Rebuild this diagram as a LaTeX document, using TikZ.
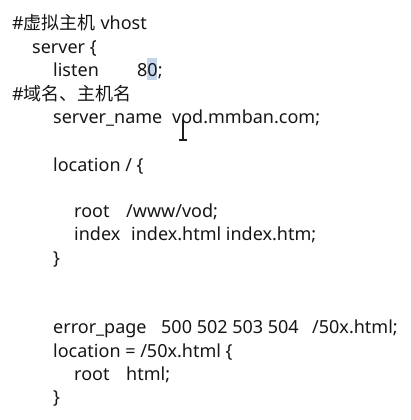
\documentclass[tikz,border=0pt]{standalone}
\usepackage{fontspec}
\setmainfont{Noto Sans}
\newfontfamily\cjk{Noto Sans CJK SC}
\definecolor{codetextcolor}{RGB}{22,22,22}
\definecolor{selectioncolor}{RGB}{197,214,236}
\definecolor{cursorcolor}{RGB}{30,30,30}
\tikzstyle{codetext} = [anchor=base west, inner sep=0, font=\fontsize{18}{22}\selectfont, text=codetextcolor]
\tikzstyle{cursorline} = [draw=cursorcolor, line width=1.2pt]

\begin{document}
\begin{tikzpicture}[
		x=1pt, y=-1pt
		]
		\useasboundingbox[fill=white] (0,0) rectangle (411,420);
		
		% selection behind the 0 of 80
		\fill[selectioncolor] (147,58) rectangle (157,80);
		
		\node[codetext] (vhostcomment) at (12,30) {\#{\cjk 虚拟主机} vhost};
		\node[codetext] (serveropen) at (32,53) {server \{};
		\node[codetext] (listenkey) at (53,77) {listen};
		\node[codetext] (listenport) at (137,77) {80;};
		\node[codetext] (namecomment) at (12,100) {\#{\cjk 域名、主机名}};
		\node[codetext] (namekey) at (53,123) {server\_name};
		\node[codetext] (namevalue) at (172,123) {vod.mmban.com;};
		
		\node[codetext] (locationopen) at (53,171) {location / \{};
		\node[codetext] (rootkey) at (74,217) {root};
		\node[codetext] (rootvalue) at (126,217) {/www/vod;};
		\node[codetext] (indexkey) at (74,240) {index};
		\node[codetext] (indexvalue) at (131,240) {index.html index.htm;};
		\node[codetext] (locationclose) at (53,264) {\}};
		
		\node[codetext] (errorkey) at (53,333) {error\_page};
		\node[codetext] (errorcodes) at (161,333) {500 502 503 504};
		\node[codetext] (errorvalue) at (312,333) {/50x.html;};
		\node[codetext] (errorlocation) at (53,357) {location = /50x.html \{};
		\node[codetext] (errorrootkey) at (74,380) {root};
		\node[codetext] (errorrootvalue) at (126,380) {html;};
		\node[codetext] (errorclose) at (53,403) {\}};
		
		% mouse cursor
		\draw[cursorline] (183,119) -- (183,140);
		\draw[cursorline] (179,140) -- (187,140);
		
	\end{tikzpicture}
\end{document}
